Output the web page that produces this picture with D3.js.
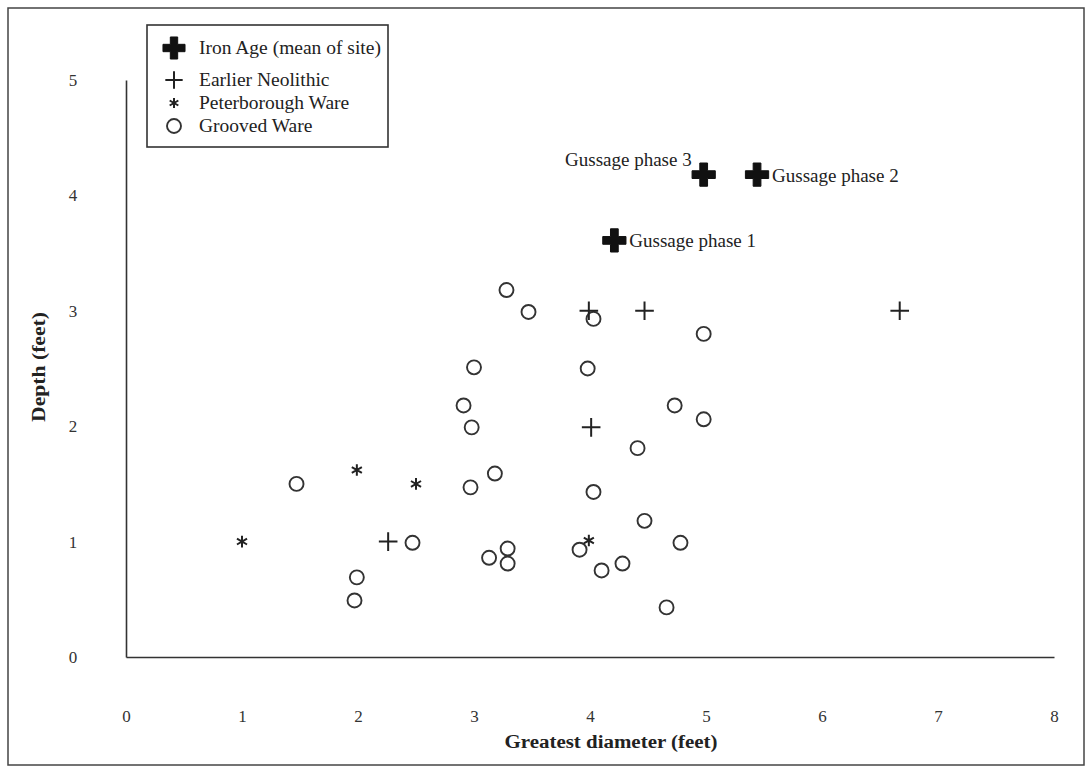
<!DOCTYPE html>
<html>
<head>
<meta charset="utf-8">
<script src="https://cdn.jsdelivr.net/npm/d3@7"></script>
<style>
  body { margin: 0; background: #fff; }
  svg text { font-family: "Liberation Serif", "DejaVu Serif", serif; fill: #222; }
  .axis path { stroke: #333; stroke-width: 1.6; }
  .axis text { font-size: 17px; font-family: "Liberation Serif", serif; fill: #333; }
  .axis-title { font-size: 18px; font-weight: bold; }
  .label { font-size: 19px; }
  .legend-text { font-size: 19.5px; }
</style>
</head>
<body>
<svg id="chart"></svg>
<script>
// values: [greatest diameter, depth] in feet
const ironAge = [[4.21, 3.61], [5.44, 4.18], [4.98, 4.18]];
const ironAgeNames = ['Gussage phase 1', 'Gussage phase 2', 'Gussage phase 3'];

const earlierNeolithic = [[3.99, 3.0], [4.47, 3.0], [6.67, 3.0], [4.01, 1.99], [2.26, 1.0]];

const peterborough = [[1.0, 1.0], [1.99, 1.62], [2.5, 1.5], [3.99, 1.01]];

const grooved = [
  [3.28, 3.18], [3.47, 2.99], [4.03, 2.93], [4.98, 2.80],
  [3.0, 2.51], [3.98, 2.50], [2.91, 2.18], [2.98, 1.99],
  [4.73, 2.18], [4.98, 2.06], [4.41, 1.81],
  [1.47, 1.50], [2.97, 1.47], [3.18, 1.59], [4.03, 1.43],
  [4.47, 1.18], [2.47, 0.99], [4.78, 0.99], [3.13, 0.86],
  [3.29, 0.94], [3.29, 0.81], [3.91, 0.93], [4.10, 0.75],
  [4.28, 0.81], [1.99, 0.69], [1.97, 0.49], [4.66, 0.43]
];

const xTicks = [0, 1, 2, 3, 4, 5, 6, 7, 8];
const yTicks = [0, 1, 2, 3, 4, 5];
const legendNames = ['Iron Age (mean of site)', 'Earlier Neolithic', 'Peterborough Ware', 'Grooved Ware'];

const width = 1091, height = 769;
const margin = {top: 80, right: 37, bottom: 112, left: 126};

const svg = d3.select('#chart')
    .attr('width', width)
    .attr('height', height);

// outer frame
svg.append('rect')
    .attr('x', 8).attr('y', 8)
    .attr('width', 1076).attr('height', 757)
    .attr('fill', 'none')
    .attr('stroke', '#444')
    .attr('stroke-width', 1.5);

const xScale = d3.scaleLinear()
    .domain([0, 8])
    .range([margin.left, width - margin.right]);

const yScale = d3.scaleLinear()
    .domain([0, 5])
    .range([height - margin.bottom, margin.top]);

const xAxis = d3.axisBottom(xScale)
    .tickValues(xTicks)
    .tickFormat(d3.format('d'))
    .tickSize(0)
    .tickPadding(53);

const yAxis = d3.axisLeft(yScale)
    .tickValues(yTicks)
    .tickFormat(d3.format('d'))
    .tickSize(0)
    .tickPadding(53);

svg.append('g')
    .attr('class', 'axis x-axis')
    .attr('transform', `translate(0,${yScale(0)})`)
    .call(xAxis);

svg.append('g')
    .attr('class', 'axis y-axis')
    .attr('transform', `translate(${xScale(0)},0)`)
    .call(yAxis)
    .selectAll('text')
    .attr('text-anchor', 'middle');

// axis titles
svg.append('text')
    .attr('class', 'axis-title')
    .attr('text-anchor', 'middle')
    .attr('x', 611)
    .attr('y', 748)
    .attr('textLength', 213)
    .attr('lengthAdjust', 'spacingAndGlyphs')
    .text('Greatest diameter (feet)');

svg.append('text')
    .attr('class', 'axis-title')
    .attr('text-anchor', 'middle')
    .attr('transform', 'translate(45,367) rotate(-90)')
    .attr('textLength', 110)
    .attr('lengthAdjust', 'spacingAndGlyphs')
    .text('Depth (feet)');

const ink = '#222';
const crossSym = d3.symbol(d3.symbolCross, 300);
const plusSym = d3.symbol(d3.symbolPlus, 115);
const starSym = d3.symbol(d3.symbolAsterisk, 95);

// grooved ware
svg.append('g').selectAll('circle')
    .data(grooved)
    .join('circle')
    .attr('cx', d => xScale(d[0]))
    .attr('cy', d => yScale(d[1]))
    .attr('r', 7)
    .attr('fill', 'none')
    .attr('stroke', '#333')
    .attr('stroke-width', 1.9);

// earlier neolithic
svg.append('g').selectAll('path')
    .data(earlierNeolithic)
    .join('path')
    .attr('d', plusSym)
    .attr('transform', d => `translate(${xScale(d[0])},${yScale(d[1])})`)
    .attr('fill', 'none')
    .attr('stroke', ink)
    .attr('stroke-width', 2);

// peterborough ware
svg.append('g').selectAll('path')
    .data(peterborough)
    .join('path')
    .attr('d', starSym)
    .attr('transform', d => `translate(${xScale(d[0])},${yScale(d[1])})`)
    .attr('fill', 'none')
    .attr('stroke', ink)
    .attr('stroke-width', 2);

// iron age site means
svg.append('g').selectAll('path')
    .data(ironAge)
    .join('path')
    .attr('d', crossSym)
    .attr('transform', d => `translate(${xScale(d[0])},${yScale(d[1])})`)
    .attr('fill', '#111')
    .attr('stroke', '#111')
    .attr('stroke-width', 1)
    .attr('stroke-linejoin', 'round');

// site labels: phase 3 sits to the upper left, the others to the right
svg.append('g').selectAll('text')
    .data(ironAge)
    .join('text')
    .attr('class', 'label')
    .attr('x', (d, i) => i === 2 ? xScale(d[0]) - 12 : xScale(d[0]) + 15)
    .attr('y', (d, i) => i === 2 ? yScale(d[1]) - 9 : yScale(d[1]) + 7)
    .attr('text-anchor', (d, i) => i === 2 ? 'end' : 'start')
    .text((d, i) => ironAgeNames[i]);

// legend
const legend = svg.append('g');
legend.append('rect')
    .attr('x', 147).attr('y', 25)
    .attr('width', 241).attr('height', 122)
    .attr('fill', 'none')
    .attr('stroke', '#333')
    .attr('stroke-width', 1.6);

const legendY = [48, 80, 103, 126];
legend.append('path')
    .attr('d', d3.symbol(d3.symbolCross, 270))
    .attr('transform', `translate(174,${legendY[0]})`)
    .attr('fill', '#111').attr('stroke', '#111').attr('stroke-linejoin', 'round');
legend.append('path')
    .attr('d', d3.symbol(d3.symbolPlus, 100))
    .attr('transform', `translate(174,${legendY[1]})`)
    .attr('fill', 'none').attr('stroke', ink).attr('stroke-width', 2);
legend.append('path')
    .attr('d', d3.symbol(d3.symbolAsterisk, 70))
    .attr('transform', `translate(174,${legendY[2]})`)
    .attr('fill', 'none').attr('stroke', ink).attr('stroke-width', 2);
legend.append('circle')
    .attr('cx', 174).attr('cy', legendY[3]).attr('r', 7)
    .attr('fill', 'none').attr('stroke', '#333').attr('stroke-width', 1.9);

legend.selectAll('text.legend-text')
    .data(legendNames)
    .join('text')
    .attr('class', 'label legend-text')
    .attr('x', 199)
    .attr('y', (d, i) => legendY[i] + 6)
    .text(d => d);
</script>
</body>
</html>
